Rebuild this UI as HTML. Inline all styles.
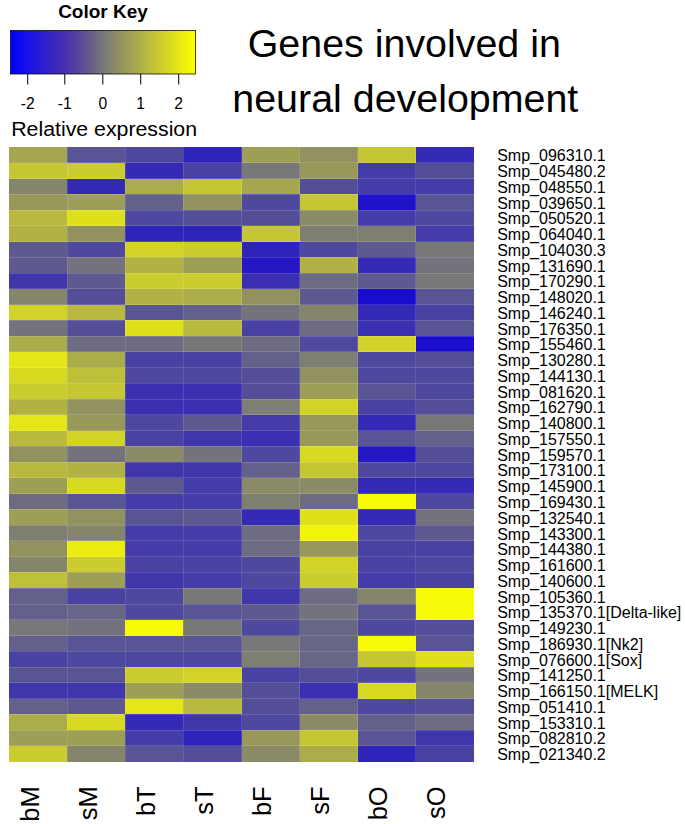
<!DOCTYPE html>
<html><head><meta charset="utf-8"><style>
html,body{margin:0;padding:0;background:#fff;}
body{width:685px;height:824px;overflow:hidden;}
svg{display:block;font-family:"Liberation Sans",sans-serif;}
</style></head><body>
<svg width="685" height="824" viewBox="0 0 685 824">
<defs><linearGradient id="kg" x1="0" x2="1" y1="0" y2="0">
<stop offset="0.000" stop-color="#0000ff"/>
<stop offset="0.050" stop-color="#0c0bf2"/>
<stop offset="0.100" stop-color="#1814e4"/>
<stop offset="0.150" stop-color="#241bd6"/>
<stop offset="0.200" stop-color="#3022c9"/>
<stop offset="0.250" stop-color="#3c2abc"/>
<stop offset="0.300" stop-color="#4833ae"/>
<stop offset="0.350" stop-color="#5440a0"/>
<stop offset="0.400" stop-color="#604f93"/>
<stop offset="0.450" stop-color="#6c6286"/>
<stop offset="0.500" stop-color="#787878"/>
<stop offset="0.550" stop-color="#86866c"/>
<stop offset="0.600" stop-color="#939360"/>
<stop offset="0.650" stop-color="#a0a054"/>
<stop offset="0.700" stop-color="#aeae48"/>
<stop offset="0.750" stop-color="#bcbc3c"/>
<stop offset="0.800" stop-color="#c9c930"/>
<stop offset="0.850" stop-color="#d6d624"/>
<stop offset="0.900" stop-color="#e4e418"/>
<stop offset="0.950" stop-color="#f2f20c"/>
<stop offset="1.000" stop-color="#ffff00"/>
</linearGradient></defs>
<text transform="translate(103,17.8) scale(1.0,1)" text-anchor="middle" font-weight="bold" font-size="19">Color Key</text>
<rect x="10.5" y="30.5" width="185" height="43.5" fill="url(#kg)" stroke="#000" stroke-width="0.75"/>
<line x1="27.7" y1="74" x2="27.7" y2="84.5" stroke="#000" stroke-width="1"/>
<text transform="translate(27.7,109.0) scale(0.95,1)" text-anchor="middle" font-size="16.5">-2</text>
<line x1="64.8" y1="74" x2="64.8" y2="84.5" stroke="#000" stroke-width="1"/>
<text transform="translate(64.8,109.0) scale(0.95,1)" text-anchor="middle" font-size="16.5">-1</text>
<line x1="102.8" y1="74" x2="102.8" y2="84.5" stroke="#000" stroke-width="1"/>
<text transform="translate(102.8,109.0) scale(0.95,1)" text-anchor="middle" font-size="16.5">0</text>
<line x1="140.7" y1="74" x2="140.7" y2="84.5" stroke="#000" stroke-width="1"/>
<text transform="translate(140.7,109.0) scale(0.95,1)" text-anchor="middle" font-size="16.5">1</text>
<line x1="178.7" y1="74" x2="178.7" y2="84.5" stroke="#000" stroke-width="1"/>
<text transform="translate(178.7,109.0) scale(0.95,1)" text-anchor="middle" font-size="16.5">2</text>
<text transform="translate(11.2,135.8) scale(1.015,1)" font-size="21">Relative expression</text>
<text x="404.3" y="57.3" text-anchor="middle" font-size="39.4">Genes involved in</text>
<text x="405.3" y="111.8" text-anchor="middle" font-size="39.4">neural development</text>
<g shape-rendering="crispEdges">
<rect x="9.30" y="147.00" width="58.35" height="16.06" fill="#a5a650"/>
<rect x="67.35" y="147.00" width="58.35" height="16.06" fill="#595494"/>
<rect x="125.40" y="147.00" width="58.35" height="16.06" fill="#4e489e"/>
<rect x="183.45" y="147.00" width="58.35" height="16.06" fill="#2f24ba"/>
<rect x="241.50" y="147.00" width="58.35" height="16.06" fill="#9e9f56"/>
<rect x="299.55" y="147.00" width="58.35" height="16.06" fill="#929261"/>
<rect x="357.60" y="147.00" width="58.35" height="16.06" fill="#c5c633"/>
<rect x="415.65" y="147.00" width="58.35" height="16.06" fill="#342ab6"/>
<rect x="9.30" y="162.76" width="58.35" height="16.06" fill="#c5c633"/>
<rect x="67.35" y="162.76" width="58.35" height="16.06" fill="#cbcc2d"/>
<rect x="125.40" y="162.76" width="58.35" height="16.06" fill="#342ab6"/>
<rect x="183.45" y="162.76" width="58.35" height="16.06" fill="#4942a3"/>
<rect x="241.50" y="162.76" width="58.35" height="16.06" fill="#787878"/>
<rect x="299.55" y="162.76" width="58.35" height="16.06" fill="#98985b"/>
<rect x="357.60" y="162.76" width="58.35" height="16.06" fill="#443ca8"/>
<rect x="415.65" y="162.76" width="58.35" height="16.06" fill="#544e99"/>
<rect x="9.30" y="178.52" width="58.35" height="16.06" fill="#85856c"/>
<rect x="67.35" y="178.52" width="58.35" height="16.06" fill="#342ab6"/>
<rect x="125.40" y="178.52" width="58.35" height="16.06" fill="#abac4a"/>
<rect x="183.45" y="178.52" width="58.35" height="16.06" fill="#c5c633"/>
<rect x="241.50" y="178.52" width="58.35" height="16.06" fill="#a5a650"/>
<rect x="299.55" y="178.52" width="58.35" height="16.06" fill="#544e99"/>
<rect x="357.60" y="178.52" width="58.35" height="16.06" fill="#443ca8"/>
<rect x="415.65" y="178.52" width="58.35" height="16.06" fill="#443ca8"/>
<rect x="9.30" y="194.28" width="58.35" height="16.06" fill="#98985b"/>
<rect x="67.35" y="194.28" width="58.35" height="16.06" fill="#9e9f56"/>
<rect x="125.40" y="194.28" width="58.35" height="16.06" fill="#63608b"/>
<rect x="183.45" y="194.28" width="58.35" height="16.06" fill="#929261"/>
<rect x="241.50" y="194.28" width="58.35" height="16.06" fill="#4e489e"/>
<rect x="299.55" y="194.28" width="58.35" height="16.06" fill="#c5c633"/>
<rect x="357.60" y="194.28" width="58.35" height="16.06" fill="#2012c9"/>
<rect x="415.65" y="194.28" width="58.35" height="16.06" fill="#595494"/>
<rect x="9.30" y="210.04" width="58.35" height="16.06" fill="#b8b93e"/>
<rect x="67.35" y="210.04" width="58.35" height="16.06" fill="#dee01c"/>
<rect x="125.40" y="210.04" width="58.35" height="16.06" fill="#4e489e"/>
<rect x="183.45" y="210.04" width="58.35" height="16.06" fill="#544e99"/>
<rect x="241.50" y="210.04" width="58.35" height="16.06" fill="#544e99"/>
<rect x="299.55" y="210.04" width="58.35" height="16.06" fill="#8b8c67"/>
<rect x="357.60" y="210.04" width="58.35" height="16.06" fill="#443ca8"/>
<rect x="415.65" y="210.04" width="58.35" height="16.06" fill="#4e489e"/>
<rect x="9.30" y="225.79" width="58.35" height="16.06" fill="#b2b244"/>
<rect x="67.35" y="225.79" width="58.35" height="16.06" fill="#929261"/>
<rect x="125.40" y="225.79" width="58.35" height="16.06" fill="#2f24ba"/>
<rect x="183.45" y="225.79" width="58.35" height="16.06" fill="#2f24ba"/>
<rect x="241.50" y="225.79" width="58.35" height="16.06" fill="#c5c633"/>
<rect x="299.55" y="225.79" width="58.35" height="16.06" fill="#7e7e72"/>
<rect x="357.60" y="225.79" width="58.35" height="16.06" fill="#7e7e72"/>
<rect x="415.65" y="225.79" width="58.35" height="16.06" fill="#443ca8"/>
<rect x="9.30" y="241.55" width="58.35" height="16.06" fill="#5e5a90"/>
<rect x="67.35" y="241.55" width="58.35" height="16.06" fill="#4e489e"/>
<rect x="125.40" y="241.55" width="58.35" height="16.06" fill="#d2d328"/>
<rect x="183.45" y="241.55" width="58.35" height="16.06" fill="#cbcc2d"/>
<rect x="241.50" y="241.55" width="58.35" height="16.06" fill="#2f24ba"/>
<rect x="299.55" y="241.55" width="58.35" height="16.06" fill="#4e489e"/>
<rect x="357.60" y="241.55" width="58.35" height="16.06" fill="#5e5a90"/>
<rect x="415.65" y="241.55" width="58.35" height="16.06" fill="#787878"/>
<rect x="9.30" y="257.31" width="58.35" height="16.06" fill="#5e5a90"/>
<rect x="67.35" y="257.31" width="58.35" height="16.06" fill="#73727d"/>
<rect x="125.40" y="257.31" width="58.35" height="16.06" fill="#b2b244"/>
<rect x="183.45" y="257.31" width="58.35" height="16.06" fill="#9e9f56"/>
<rect x="241.50" y="257.31" width="58.35" height="16.06" fill="#2518c4"/>
<rect x="299.55" y="257.31" width="58.35" height="16.06" fill="#b2b244"/>
<rect x="357.60" y="257.31" width="58.35" height="16.06" fill="#342ab6"/>
<rect x="415.65" y="257.31" width="58.35" height="16.06" fill="#73727d"/>
<rect x="9.30" y="273.07" width="58.35" height="16.06" fill="#3f36ac"/>
<rect x="67.35" y="273.07" width="58.35" height="16.06" fill="#5e5a90"/>
<rect x="125.40" y="273.07" width="58.35" height="16.06" fill="#cbcc2d"/>
<rect x="183.45" y="273.07" width="58.35" height="16.06" fill="#cbcc2d"/>
<rect x="241.50" y="273.07" width="58.35" height="16.06" fill="#3a30b1"/>
<rect x="299.55" y="273.07" width="58.35" height="16.06" fill="#6e6c82"/>
<rect x="357.60" y="273.07" width="58.35" height="16.06" fill="#5e5a90"/>
<rect x="415.65" y="273.07" width="58.35" height="16.06" fill="#787878"/>
<rect x="9.30" y="288.83" width="58.35" height="16.06" fill="#85856c"/>
<rect x="67.35" y="288.83" width="58.35" height="16.06" fill="#544e99"/>
<rect x="125.40" y="288.83" width="58.35" height="16.06" fill="#b2b244"/>
<rect x="183.45" y="288.83" width="58.35" height="16.06" fill="#abac4a"/>
<rect x="241.50" y="288.83" width="58.35" height="16.06" fill="#929261"/>
<rect x="299.55" y="288.83" width="58.35" height="16.06" fill="#5e5a90"/>
<rect x="357.60" y="288.83" width="58.35" height="16.06" fill="#1a0cce"/>
<rect x="415.65" y="288.83" width="58.35" height="16.06" fill="#595494"/>
<rect x="9.30" y="304.59" width="58.35" height="16.06" fill="#d2d328"/>
<rect x="67.35" y="304.59" width="58.35" height="16.06" fill="#b8b93e"/>
<rect x="125.40" y="304.59" width="58.35" height="16.06" fill="#595494"/>
<rect x="183.45" y="304.59" width="58.35" height="16.06" fill="#63608b"/>
<rect x="241.50" y="304.59" width="58.35" height="16.06" fill="#73727d"/>
<rect x="299.55" y="304.59" width="58.35" height="16.06" fill="#85856c"/>
<rect x="357.60" y="304.59" width="58.35" height="16.06" fill="#342ab6"/>
<rect x="415.65" y="304.59" width="58.35" height="16.06" fill="#4942a3"/>
<rect x="9.30" y="320.35" width="58.35" height="16.06" fill="#73727d"/>
<rect x="67.35" y="320.35" width="58.35" height="16.06" fill="#544e99"/>
<rect x="125.40" y="320.35" width="58.35" height="16.06" fill="#dee01c"/>
<rect x="183.45" y="320.35" width="58.35" height="16.06" fill="#b8b93e"/>
<rect x="241.50" y="320.35" width="58.35" height="16.06" fill="#4942a3"/>
<rect x="299.55" y="320.35" width="58.35" height="16.06" fill="#6e6c82"/>
<rect x="357.60" y="320.35" width="58.35" height="16.06" fill="#3a30b1"/>
<rect x="415.65" y="320.35" width="58.35" height="16.06" fill="#595494"/>
<rect x="9.30" y="336.11" width="58.35" height="16.06" fill="#abac4a"/>
<rect x="67.35" y="336.11" width="58.35" height="16.06" fill="#6e6c82"/>
<rect x="125.40" y="336.11" width="58.35" height="16.06" fill="#6e6c82"/>
<rect x="183.45" y="336.11" width="58.35" height="16.06" fill="#787878"/>
<rect x="241.50" y="336.11" width="58.35" height="16.06" fill="#6e6c82"/>
<rect x="299.55" y="336.11" width="58.35" height="16.06" fill="#4e489e"/>
<rect x="357.60" y="336.11" width="58.35" height="16.06" fill="#d2d328"/>
<rect x="415.65" y="336.11" width="58.35" height="16.06" fill="#1a0cce"/>
<rect x="9.30" y="351.87" width="58.35" height="16.06" fill="#e5e616"/>
<rect x="67.35" y="351.87" width="58.35" height="16.06" fill="#abac4a"/>
<rect x="125.40" y="351.87" width="58.35" height="16.06" fill="#4942a3"/>
<rect x="183.45" y="351.87" width="58.35" height="16.06" fill="#4942a3"/>
<rect x="241.50" y="351.87" width="58.35" height="16.06" fill="#63608b"/>
<rect x="299.55" y="351.87" width="58.35" height="16.06" fill="#7e7e72"/>
<rect x="357.60" y="351.87" width="58.35" height="16.06" fill="#4e489e"/>
<rect x="415.65" y="351.87" width="58.35" height="16.06" fill="#544e99"/>
<rect x="9.30" y="367.63" width="58.35" height="16.06" fill="#d8da22"/>
<rect x="67.35" y="367.63" width="58.35" height="16.06" fill="#bec039"/>
<rect x="125.40" y="367.63" width="58.35" height="16.06" fill="#4e489e"/>
<rect x="183.45" y="367.63" width="58.35" height="16.06" fill="#4e489e"/>
<rect x="241.50" y="367.63" width="58.35" height="16.06" fill="#544e99"/>
<rect x="299.55" y="367.63" width="58.35" height="16.06" fill="#929261"/>
<rect x="357.60" y="367.63" width="58.35" height="16.06" fill="#4e489e"/>
<rect x="415.65" y="367.63" width="58.35" height="16.06" fill="#4e489e"/>
<rect x="9.30" y="383.38" width="58.35" height="16.06" fill="#cbcc2d"/>
<rect x="67.35" y="383.38" width="58.35" height="16.06" fill="#c5c633"/>
<rect x="125.40" y="383.38" width="58.35" height="16.06" fill="#3a30b1"/>
<rect x="183.45" y="383.38" width="58.35" height="16.06" fill="#3a30b1"/>
<rect x="241.50" y="383.38" width="58.35" height="16.06" fill="#544e99"/>
<rect x="299.55" y="383.38" width="58.35" height="16.06" fill="#9e9f56"/>
<rect x="357.60" y="383.38" width="58.35" height="16.06" fill="#595494"/>
<rect x="415.65" y="383.38" width="58.35" height="16.06" fill="#4e489e"/>
<rect x="9.30" y="399.14" width="58.35" height="16.06" fill="#b2b244"/>
<rect x="67.35" y="399.14" width="58.35" height="16.06" fill="#929261"/>
<rect x="125.40" y="399.14" width="58.35" height="16.06" fill="#3a30b1"/>
<rect x="183.45" y="399.14" width="58.35" height="16.06" fill="#3a30b1"/>
<rect x="241.50" y="399.14" width="58.35" height="16.06" fill="#7e7e72"/>
<rect x="299.55" y="399.14" width="58.35" height="16.06" fill="#d2d328"/>
<rect x="357.60" y="399.14" width="58.35" height="16.06" fill="#4942a3"/>
<rect x="415.65" y="399.14" width="58.35" height="16.06" fill="#544e99"/>
<rect x="9.30" y="414.90" width="58.35" height="16.06" fill="#e5e616"/>
<rect x="67.35" y="414.90" width="58.35" height="16.06" fill="#98985b"/>
<rect x="125.40" y="414.90" width="58.35" height="16.06" fill="#4e489e"/>
<rect x="183.45" y="414.90" width="58.35" height="16.06" fill="#5e5a90"/>
<rect x="241.50" y="414.90" width="58.35" height="16.06" fill="#443ca8"/>
<rect x="299.55" y="414.90" width="58.35" height="16.06" fill="#98985b"/>
<rect x="357.60" y="414.90" width="58.35" height="16.06" fill="#342ab6"/>
<rect x="415.65" y="414.90" width="58.35" height="16.06" fill="#787878"/>
<rect x="9.30" y="430.66" width="58.35" height="16.06" fill="#b8b93e"/>
<rect x="67.35" y="430.66" width="58.35" height="16.06" fill="#d2d328"/>
<rect x="125.40" y="430.66" width="58.35" height="16.06" fill="#4942a3"/>
<rect x="183.45" y="430.66" width="58.35" height="16.06" fill="#3f36ac"/>
<rect x="241.50" y="430.66" width="58.35" height="16.06" fill="#3a30b1"/>
<rect x="299.55" y="430.66" width="58.35" height="16.06" fill="#98985b"/>
<rect x="357.60" y="430.66" width="58.35" height="16.06" fill="#595494"/>
<rect x="415.65" y="430.66" width="58.35" height="16.06" fill="#63608b"/>
<rect x="9.30" y="446.42" width="58.35" height="16.06" fill="#929261"/>
<rect x="67.35" y="446.42" width="58.35" height="16.06" fill="#73727d"/>
<rect x="125.40" y="446.42" width="58.35" height="16.06" fill="#8b8c67"/>
<rect x="183.45" y="446.42" width="58.35" height="16.06" fill="#73727d"/>
<rect x="241.50" y="446.42" width="58.35" height="16.06" fill="#4e489e"/>
<rect x="299.55" y="446.42" width="58.35" height="16.06" fill="#d8da22"/>
<rect x="357.60" y="446.42" width="58.35" height="16.06" fill="#2518c4"/>
<rect x="415.65" y="446.42" width="58.35" height="16.06" fill="#544e99"/>
<rect x="9.30" y="462.18" width="58.35" height="16.06" fill="#b8b93e"/>
<rect x="67.35" y="462.18" width="58.35" height="16.06" fill="#b2b244"/>
<rect x="125.40" y="462.18" width="58.35" height="16.06" fill="#3f36ac"/>
<rect x="183.45" y="462.18" width="58.35" height="16.06" fill="#3f36ac"/>
<rect x="241.50" y="462.18" width="58.35" height="16.06" fill="#63608b"/>
<rect x="299.55" y="462.18" width="58.35" height="16.06" fill="#c5c633"/>
<rect x="357.60" y="462.18" width="58.35" height="16.06" fill="#4e489e"/>
<rect x="415.65" y="462.18" width="58.35" height="16.06" fill="#4e489e"/>
<rect x="9.30" y="477.94" width="58.35" height="16.06" fill="#9e9f56"/>
<rect x="67.35" y="477.94" width="58.35" height="16.06" fill="#d8da22"/>
<rect x="125.40" y="477.94" width="58.35" height="16.06" fill="#5e5a90"/>
<rect x="183.45" y="477.94" width="58.35" height="16.06" fill="#443ca8"/>
<rect x="241.50" y="477.94" width="58.35" height="16.06" fill="#8b8c67"/>
<rect x="299.55" y="477.94" width="58.35" height="16.06" fill="#8b8c67"/>
<rect x="357.60" y="477.94" width="58.35" height="16.06" fill="#342ab6"/>
<rect x="415.65" y="477.94" width="58.35" height="16.06" fill="#342ab6"/>
<rect x="9.30" y="493.70" width="58.35" height="16.06" fill="#6e6c82"/>
<rect x="67.35" y="493.70" width="58.35" height="16.06" fill="#595494"/>
<rect x="125.40" y="493.70" width="58.35" height="16.06" fill="#443ca8"/>
<rect x="183.45" y="493.70" width="58.35" height="16.06" fill="#443ca8"/>
<rect x="241.50" y="493.70" width="58.35" height="16.06" fill="#7e7e72"/>
<rect x="299.55" y="493.70" width="58.35" height="16.06" fill="#6e6c82"/>
<rect x="357.60" y="493.70" width="58.35" height="16.06" fill="#f8fa05"/>
<rect x="415.65" y="493.70" width="58.35" height="16.06" fill="#4e489e"/>
<rect x="9.30" y="509.46" width="58.35" height="16.06" fill="#9e9f56"/>
<rect x="67.35" y="509.46" width="58.35" height="16.06" fill="#929261"/>
<rect x="125.40" y="509.46" width="58.35" height="16.06" fill="#595494"/>
<rect x="183.45" y="509.46" width="58.35" height="16.06" fill="#5e5a90"/>
<rect x="241.50" y="509.46" width="58.35" height="16.06" fill="#342ab6"/>
<rect x="299.55" y="509.46" width="58.35" height="16.06" fill="#dee01c"/>
<rect x="357.60" y="509.46" width="58.35" height="16.06" fill="#342ab6"/>
<rect x="415.65" y="509.46" width="58.35" height="16.06" fill="#73727d"/>
<rect x="9.30" y="525.22" width="58.35" height="16.06" fill="#7e7e72"/>
<rect x="67.35" y="525.22" width="58.35" height="16.06" fill="#85856c"/>
<rect x="125.40" y="525.22" width="58.35" height="16.06" fill="#443ca8"/>
<rect x="183.45" y="525.22" width="58.35" height="16.06" fill="#443ca8"/>
<rect x="241.50" y="525.22" width="58.35" height="16.06" fill="#6e6c82"/>
<rect x="299.55" y="525.22" width="58.35" height="16.06" fill="#f2f40b"/>
<rect x="357.60" y="525.22" width="58.35" height="16.06" fill="#4e489e"/>
<rect x="415.65" y="525.22" width="58.35" height="16.06" fill="#5e5a90"/>
<rect x="9.30" y="540.97" width="58.35" height="16.06" fill="#929261"/>
<rect x="67.35" y="540.97" width="58.35" height="16.06" fill="#ebed10"/>
<rect x="125.40" y="540.97" width="58.35" height="16.06" fill="#443ca8"/>
<rect x="183.45" y="540.97" width="58.35" height="16.06" fill="#443ca8"/>
<rect x="241.50" y="540.97" width="58.35" height="16.06" fill="#6e6c82"/>
<rect x="299.55" y="540.97" width="58.35" height="16.06" fill="#98985b"/>
<rect x="357.60" y="540.97" width="58.35" height="16.06" fill="#4942a3"/>
<rect x="415.65" y="540.97" width="58.35" height="16.06" fill="#4942a3"/>
<rect x="9.30" y="556.73" width="58.35" height="16.06" fill="#85856c"/>
<rect x="67.35" y="556.73" width="58.35" height="16.06" fill="#cbcc2d"/>
<rect x="125.40" y="556.73" width="58.35" height="16.06" fill="#4942a3"/>
<rect x="183.45" y="556.73" width="58.35" height="16.06" fill="#4942a3"/>
<rect x="241.50" y="556.73" width="58.35" height="16.06" fill="#4e489e"/>
<rect x="299.55" y="556.73" width="58.35" height="16.06" fill="#d2d328"/>
<rect x="357.60" y="556.73" width="58.35" height="16.06" fill="#4942a3"/>
<rect x="415.65" y="556.73" width="58.35" height="16.06" fill="#4e489e"/>
<rect x="9.30" y="572.49" width="58.35" height="16.06" fill="#bec039"/>
<rect x="67.35" y="572.49" width="58.35" height="16.06" fill="#9e9f56"/>
<rect x="125.40" y="572.49" width="58.35" height="16.06" fill="#3f36ac"/>
<rect x="183.45" y="572.49" width="58.35" height="16.06" fill="#443ca8"/>
<rect x="241.50" y="572.49" width="58.35" height="16.06" fill="#4e489e"/>
<rect x="299.55" y="572.49" width="58.35" height="16.06" fill="#cbcc2d"/>
<rect x="357.60" y="572.49" width="58.35" height="16.06" fill="#443ca8"/>
<rect x="415.65" y="572.49" width="58.35" height="16.06" fill="#4942a3"/>
<rect x="9.30" y="588.25" width="58.35" height="16.06" fill="#63608b"/>
<rect x="67.35" y="588.25" width="58.35" height="16.06" fill="#4942a3"/>
<rect x="125.40" y="588.25" width="58.35" height="16.06" fill="#4e489e"/>
<rect x="183.45" y="588.25" width="58.35" height="16.06" fill="#787878"/>
<rect x="241.50" y="588.25" width="58.35" height="16.06" fill="#3f36ac"/>
<rect x="299.55" y="588.25" width="58.35" height="16.06" fill="#6e6c82"/>
<rect x="357.60" y="588.25" width="58.35" height="16.06" fill="#85856c"/>
<rect x="415.65" y="588.25" width="58.35" height="16.06" fill="#f8fa05"/>
<rect x="9.30" y="604.01" width="58.35" height="16.06" fill="#63608b"/>
<rect x="67.35" y="604.01" width="58.35" height="16.06" fill="#686686"/>
<rect x="125.40" y="604.01" width="58.35" height="16.06" fill="#4e489e"/>
<rect x="183.45" y="604.01" width="58.35" height="16.06" fill="#595494"/>
<rect x="241.50" y="604.01" width="58.35" height="16.06" fill="#5e5a90"/>
<rect x="299.55" y="604.01" width="58.35" height="16.06" fill="#73727d"/>
<rect x="357.60" y="604.01" width="58.35" height="16.06" fill="#595494"/>
<rect x="415.65" y="604.01" width="58.35" height="16.06" fill="#f8fa05"/>
<rect x="9.30" y="619.77" width="58.35" height="16.06" fill="#787878"/>
<rect x="67.35" y="619.77" width="58.35" height="16.06" fill="#73727d"/>
<rect x="125.40" y="619.77" width="58.35" height="16.06" fill="#f8fa05"/>
<rect x="183.45" y="619.77" width="58.35" height="16.06" fill="#787878"/>
<rect x="241.50" y="619.77" width="58.35" height="16.06" fill="#4e489e"/>
<rect x="299.55" y="619.77" width="58.35" height="16.06" fill="#686686"/>
<rect x="357.60" y="619.77" width="58.35" height="16.06" fill="#4e489e"/>
<rect x="415.65" y="619.77" width="58.35" height="16.06" fill="#544e99"/>
<rect x="9.30" y="635.53" width="58.35" height="16.06" fill="#63608b"/>
<rect x="67.35" y="635.53" width="58.35" height="16.06" fill="#595494"/>
<rect x="125.40" y="635.53" width="58.35" height="16.06" fill="#595494"/>
<rect x="183.45" y="635.53" width="58.35" height="16.06" fill="#595494"/>
<rect x="241.50" y="635.53" width="58.35" height="16.06" fill="#787878"/>
<rect x="299.55" y="635.53" width="58.35" height="16.06" fill="#686686"/>
<rect x="357.60" y="635.53" width="58.35" height="16.06" fill="#f8fa05"/>
<rect x="415.65" y="635.53" width="58.35" height="16.06" fill="#595494"/>
<rect x="9.30" y="651.29" width="58.35" height="16.06" fill="#4942a3"/>
<rect x="67.35" y="651.29" width="58.35" height="16.06" fill="#4e489e"/>
<rect x="125.40" y="651.29" width="58.35" height="16.06" fill="#4e489e"/>
<rect x="183.45" y="651.29" width="58.35" height="16.06" fill="#4e489e"/>
<rect x="241.50" y="651.29" width="58.35" height="16.06" fill="#7e7e72"/>
<rect x="299.55" y="651.29" width="58.35" height="16.06" fill="#686686"/>
<rect x="357.60" y="651.29" width="58.35" height="16.06" fill="#c5c633"/>
<rect x="415.65" y="651.29" width="58.35" height="16.06" fill="#dee01c"/>
<rect x="9.30" y="667.05" width="58.35" height="16.06" fill="#595494"/>
<rect x="67.35" y="667.05" width="58.35" height="16.06" fill="#595494"/>
<rect x="125.40" y="667.05" width="58.35" height="16.06" fill="#cbcc2d"/>
<rect x="183.45" y="667.05" width="58.35" height="16.06" fill="#d2d328"/>
<rect x="241.50" y="667.05" width="58.35" height="16.06" fill="#4942a3"/>
<rect x="299.55" y="667.05" width="58.35" height="16.06" fill="#544e99"/>
<rect x="357.60" y="667.05" width="58.35" height="16.06" fill="#4e489e"/>
<rect x="415.65" y="667.05" width="58.35" height="16.06" fill="#73727d"/>
<rect x="9.30" y="682.81" width="58.35" height="16.06" fill="#3f36ac"/>
<rect x="67.35" y="682.81" width="58.35" height="16.06" fill="#3f36ac"/>
<rect x="125.40" y="682.81" width="58.35" height="16.06" fill="#9e9f56"/>
<rect x="183.45" y="682.81" width="58.35" height="16.06" fill="#8b8c67"/>
<rect x="241.50" y="682.81" width="58.35" height="16.06" fill="#544e99"/>
<rect x="299.55" y="682.81" width="58.35" height="16.06" fill="#3a30b1"/>
<rect x="357.60" y="682.81" width="58.35" height="16.06" fill="#d8da22"/>
<rect x="415.65" y="682.81" width="58.35" height="16.06" fill="#85856c"/>
<rect x="9.30" y="698.56" width="58.35" height="16.06" fill="#63608b"/>
<rect x="67.35" y="698.56" width="58.35" height="16.06" fill="#5e5a90"/>
<rect x="125.40" y="698.56" width="58.35" height="16.06" fill="#e5e616"/>
<rect x="183.45" y="698.56" width="58.35" height="16.06" fill="#b8b93e"/>
<rect x="241.50" y="698.56" width="58.35" height="16.06" fill="#544e99"/>
<rect x="299.55" y="698.56" width="58.35" height="16.06" fill="#63608b"/>
<rect x="357.60" y="698.56" width="58.35" height="16.06" fill="#4e489e"/>
<rect x="415.65" y="698.56" width="58.35" height="16.06" fill="#544e99"/>
<rect x="9.30" y="714.32" width="58.35" height="16.06" fill="#abac4a"/>
<rect x="67.35" y="714.32" width="58.35" height="16.06" fill="#d8da22"/>
<rect x="125.40" y="714.32" width="58.35" height="16.06" fill="#342ab6"/>
<rect x="183.45" y="714.32" width="58.35" height="16.06" fill="#3f36ac"/>
<rect x="241.50" y="714.32" width="58.35" height="16.06" fill="#4e489e"/>
<rect x="299.55" y="714.32" width="58.35" height="16.06" fill="#8b8c67"/>
<rect x="357.60" y="714.32" width="58.35" height="16.06" fill="#63608b"/>
<rect x="415.65" y="714.32" width="58.35" height="16.06" fill="#6e6c82"/>
<rect x="9.30" y="730.08" width="58.35" height="16.06" fill="#9e9f56"/>
<rect x="67.35" y="730.08" width="58.35" height="16.06" fill="#9e9f56"/>
<rect x="125.40" y="730.08" width="58.35" height="16.06" fill="#443ca8"/>
<rect x="183.45" y="730.08" width="58.35" height="16.06" fill="#2f24ba"/>
<rect x="241.50" y="730.08" width="58.35" height="16.06" fill="#98985b"/>
<rect x="299.55" y="730.08" width="58.35" height="16.06" fill="#c5c633"/>
<rect x="357.60" y="730.08" width="58.35" height="16.06" fill="#595494"/>
<rect x="415.65" y="730.08" width="58.35" height="16.06" fill="#3f36ac"/>
<rect x="9.30" y="745.84" width="58.35" height="16.06" fill="#cbcc2d"/>
<rect x="67.35" y="745.84" width="58.35" height="16.06" fill="#85856c"/>
<rect x="125.40" y="745.84" width="58.35" height="16.06" fill="#595494"/>
<rect x="183.45" y="745.84" width="58.35" height="16.06" fill="#544e99"/>
<rect x="241.50" y="745.84" width="58.35" height="16.06" fill="#8b8c67"/>
<rect x="299.55" y="745.84" width="58.35" height="16.06" fill="#abac4a"/>
<rect x="357.60" y="745.84" width="58.35" height="16.06" fill="#2f24ba"/>
<rect x="415.65" y="745.84" width="58.35" height="16.06" fill="#4942a3"/>
<rect x="9.30" y="162.26" width="464.40" height="1" fill="#fff" fill-opacity="0.15"/>
<rect x="9.30" y="178.02" width="464.40" height="1" fill="#fff" fill-opacity="0.15"/>
<rect x="9.30" y="193.78" width="464.40" height="1" fill="#fff" fill-opacity="0.15"/>
<rect x="9.30" y="209.54" width="464.40" height="1" fill="#fff" fill-opacity="0.15"/>
<rect x="9.30" y="225.29" width="464.40" height="1" fill="#fff" fill-opacity="0.15"/>
<rect x="9.30" y="241.05" width="464.40" height="1" fill="#fff" fill-opacity="0.15"/>
<rect x="9.30" y="256.81" width="464.40" height="1" fill="#fff" fill-opacity="0.15"/>
<rect x="9.30" y="272.57" width="464.40" height="1" fill="#fff" fill-opacity="0.15"/>
<rect x="9.30" y="288.33" width="464.40" height="1" fill="#fff" fill-opacity="0.15"/>
<rect x="9.30" y="304.09" width="464.40" height="1" fill="#fff" fill-opacity="0.15"/>
<rect x="9.30" y="319.85" width="464.40" height="1" fill="#fff" fill-opacity="0.15"/>
<rect x="9.30" y="335.61" width="464.40" height="1" fill="#fff" fill-opacity="0.15"/>
<rect x="9.30" y="351.37" width="464.40" height="1" fill="#fff" fill-opacity="0.15"/>
<rect x="9.30" y="367.13" width="464.40" height="1" fill="#fff" fill-opacity="0.15"/>
<rect x="9.30" y="382.88" width="464.40" height="1" fill="#fff" fill-opacity="0.15"/>
<rect x="9.30" y="398.64" width="464.40" height="1" fill="#fff" fill-opacity="0.15"/>
<rect x="9.30" y="414.40" width="464.40" height="1" fill="#fff" fill-opacity="0.15"/>
<rect x="9.30" y="430.16" width="464.40" height="1" fill="#fff" fill-opacity="0.15"/>
<rect x="9.30" y="445.92" width="464.40" height="1" fill="#fff" fill-opacity="0.15"/>
<rect x="9.30" y="461.68" width="464.40" height="1" fill="#fff" fill-opacity="0.15"/>
<rect x="9.30" y="477.44" width="464.40" height="1" fill="#fff" fill-opacity="0.15"/>
<rect x="9.30" y="493.20" width="464.40" height="1" fill="#fff" fill-opacity="0.15"/>
<rect x="9.30" y="508.96" width="464.40" height="1" fill="#fff" fill-opacity="0.15"/>
<rect x="9.30" y="524.72" width="464.40" height="1" fill="#fff" fill-opacity="0.15"/>
<rect x="9.30" y="540.47" width="464.40" height="1" fill="#fff" fill-opacity="0.15"/>
<rect x="9.30" y="556.23" width="464.40" height="1" fill="#fff" fill-opacity="0.15"/>
<rect x="9.30" y="571.99" width="464.40" height="1" fill="#fff" fill-opacity="0.15"/>
<rect x="9.30" y="587.75" width="464.40" height="1" fill="#fff" fill-opacity="0.15"/>
<rect x="9.30" y="603.51" width="464.40" height="1" fill="#fff" fill-opacity="0.15"/>
<rect x="9.30" y="619.27" width="464.40" height="1" fill="#fff" fill-opacity="0.15"/>
<rect x="9.30" y="635.03" width="464.40" height="1" fill="#fff" fill-opacity="0.15"/>
<rect x="9.30" y="650.79" width="464.40" height="1" fill="#fff" fill-opacity="0.15"/>
<rect x="9.30" y="666.55" width="464.40" height="1" fill="#fff" fill-opacity="0.15"/>
<rect x="9.30" y="682.31" width="464.40" height="1" fill="#fff" fill-opacity="0.15"/>
<rect x="9.30" y="698.06" width="464.40" height="1" fill="#fff" fill-opacity="0.15"/>
<rect x="9.30" y="713.82" width="464.40" height="1" fill="#fff" fill-opacity="0.15"/>
<rect x="9.30" y="729.58" width="464.40" height="1" fill="#fff" fill-opacity="0.15"/>
<rect x="9.30" y="745.34" width="464.40" height="1" fill="#fff" fill-opacity="0.15"/>
<rect x="66.85" y="147.00" width="1" height="614.60" fill="#fff" fill-opacity="0.12"/>
<rect x="124.90" y="147.00" width="1" height="614.60" fill="#fff" fill-opacity="0.12"/>
<rect x="182.95" y="147.00" width="1" height="614.60" fill="#fff" fill-opacity="0.12"/>
<rect x="241.00" y="147.00" width="1" height="614.60" fill="#fff" fill-opacity="0.12"/>
<rect x="299.05" y="147.00" width="1" height="614.60" fill="#fff" fill-opacity="0.12"/>
<rect x="357.10" y="147.00" width="1" height="614.60" fill="#fff" fill-opacity="0.12"/>
<rect x="415.15" y="147.00" width="1" height="614.60" fill="#fff" fill-opacity="0.12"/>
</g>
<g font-size="16" transform="translate(497.2,0.9) scale(1.0,1)">
<text x="0" y="160.40">Smp_096310.1</text>
<text x="0" y="176.16">Smp_045480.2</text>
<text x="0" y="191.92">Smp_048550.1</text>
<text x="0" y="207.68">Smp_039650.1</text>
<text x="0" y="223.44">Smp_050520.1</text>
<text x="0" y="239.19">Smp_064040.1</text>
<text x="0" y="254.95">Smp_104030.3</text>
<text x="0" y="270.71">Smp_131690.1</text>
<text x="0" y="286.47">Smp_170290.1</text>
<text x="0" y="302.23">Smp_148020.1</text>
<text x="0" y="317.99">Smp_146240.1</text>
<text x="0" y="333.75">Smp_176350.1</text>
<text x="0" y="349.51">Smp_155460.1</text>
<text x="0" y="365.27">Smp_130280.1</text>
<text x="0" y="381.03">Smp_144130.1</text>
<text x="0" y="396.78">Smp_081620.1</text>
<text x="0" y="412.54">Smp_162790.1</text>
<text x="0" y="428.30">Smp_140800.1</text>
<text x="0" y="444.06">Smp_157550.1</text>
<text x="0" y="459.82">Smp_159570.1</text>
<text x="0" y="475.58">Smp_173100.1</text>
<text x="0" y="491.34">Smp_145900.1</text>
<text x="0" y="507.10">Smp_169430.1</text>
<text x="0" y="522.86">Smp_132540.1</text>
<text x="0" y="538.62">Smp_143300.1</text>
<text x="0" y="554.37">Smp_144380.1</text>
<text x="0" y="570.13">Smp_161600.1</text>
<text x="0" y="585.89">Smp_140600.1</text>
<text x="0" y="601.65">Smp_105360.1</text>
<text x="0" y="617.41">Smp_135370.1[Delta-like]</text>
<text x="0" y="633.17">Smp_149230.1</text>
<text x="0" y="648.93">Smp_186930.1[Nk2]</text>
<text x="0" y="664.69">Smp_076600.1[Sox]</text>
<text x="0" y="680.45">Smp_141250.1</text>
<text x="0" y="696.21">Smp_166150.1[MELK]</text>
<text x="0" y="711.96">Smp_051410.1</text>
<text x="0" y="727.72">Smp_153310.1</text>
<text x="0" y="743.48">Smp_082810.2</text>
<text x="0" y="759.24">Smp_021340.2</text>
</g>
<g font-size="25.5">
<text transform="translate(38.93,786.3) rotate(-90)" text-anchor="end">bM</text>
<text transform="translate(96.97,786.3) rotate(-90)" text-anchor="end">sM</text>
<text transform="translate(155.02,786.3) rotate(-90)" text-anchor="end">bT</text>
<text transform="translate(213.07,786.3) rotate(-90)" text-anchor="end">sT</text>
<text transform="translate(271.12,786.3) rotate(-90)" text-anchor="end">bF</text>
<text transform="translate(329.18,786.3) rotate(-90)" text-anchor="end">sF</text>
<text transform="translate(387.22,786.3) rotate(-90)" text-anchor="end">bO</text>
<text transform="translate(445.27,786.3) rotate(-90)" text-anchor="end">sO</text>
</g>
</svg>
</body></html>
